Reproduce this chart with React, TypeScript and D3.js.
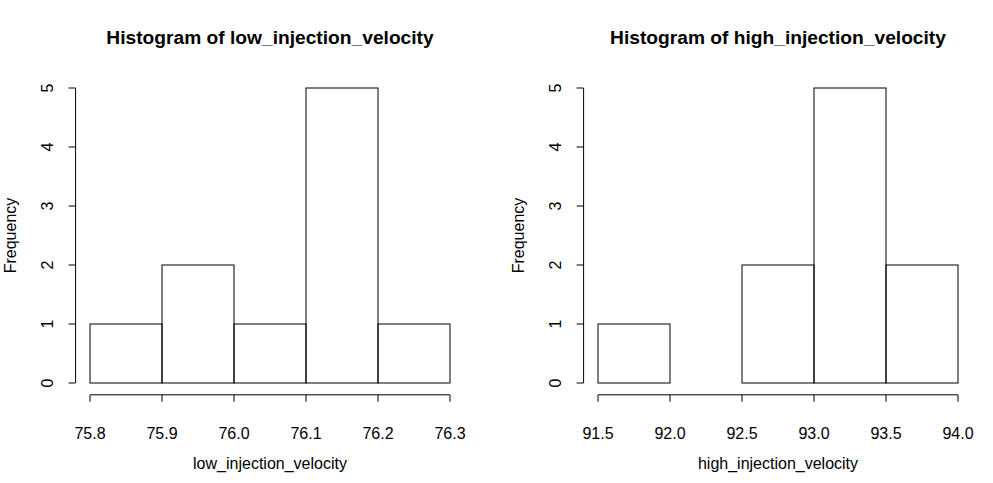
import React from 'react';
import * as d3 from 'd3';

const lowBreaks = [75.8, 75.9, 76.0, 76.1, 76.2, 76.3];
const lowCounts = [1, 2, 1, 5, 1];
const highBreaks = [91.5, 92.0, 92.5, 93.0, 93.5, 94.0];
const highCounts = [1, 0, 2, 5, 2];
const yTicks = [0, 1, 2, 3, 4, 5];

const W = 993;
const H = 483;
const FONT = '"Liberation Sans", Arial, Helvetica, sans-serif';

interface PanelProps {
  left: number;
  name: string;
  breaks: number[];
  counts: number[];
}

const Panel: React.FC<PanelProps> = ({ left, name, breaks, counts }) => {
  const plotL = left;
  const plotR = left + 388.8;
  const plotT = 76.2;
  const plotB = 394.8;

  const lo = breaks[0];
  const hi = breaks[breaks.length - 1];
  const pad = (hi - lo) * 0.04;
  const x = d3.scaleLinear().domain([lo - pad, hi + pad]).range([plotL, plotR]);
  const y = d3.scaleLinear().domain([-0.2, 5.2]).range([plotB, plotT]);
  const fmt = d3.format('.1f');
  const cx = (plotL + plotR) / 2;
  const cy = (plotT + plotB) / 2;

  return (
    <g fontFamily={FONT} fill="#000">
      <text x={cx} y={43.5} textAnchor="middle" fontSize={19.2} fontWeight="bold">
        Histogram of {name}
      </text>
      {counts.map((c, i) => (
        <rect
          key={i}
          x={x(breaks[i])}
          y={y(c)}
          width={x(breaks[i + 1]) - x(breaks[i])}
          height={y(0) - y(c)}
          fill="none"
          stroke="#000"
          strokeWidth={1}
        />
      ))}
      {/* x axis */}
      <line x1={x(lo)} x2={x(hi)} y1={plotB} y2={plotB} stroke="#000" />
      {breaks.map((b, i) => (
        <g key={i}>
          <line x1={x(b)} x2={x(b)} y1={plotB} y2={plotB + 7} stroke="#000" />
          <text x={x(b)} y={439} textAnchor="middle" fontSize={16}>
            {fmt(b)}
          </text>
        </g>
      ))}
      <text x={cx} y={469} textAnchor="middle" fontSize={16}>
        {name}
      </text>
      {/* y axis */}
      <line x1={plotL} x2={plotL} y1={y(0)} y2={y(5)} stroke="#000" />
      {yTicks.map((t) => (
        <g key={t}>
          <line x1={plotL - 7} x2={plotL} y1={y(t)} y2={y(t)} stroke="#000" />
          <text
            transform={`translate(${plotL - 23},${y(t)}) rotate(-90)`}
            textAnchor="middle"
            fontSize={16}
          >
            {t}
          </text>
        </g>
      ))}
      <text
        transform={`translate(${left - 60},${cy}) rotate(-90)`}
        textAnchor="middle"
        fontSize={16}
      >
        Frequency
      </text>
    </g>
  );
};

export default function App() {
  return (
    <svg
      width={W}
      height={H}
      style={{ position: 'absolute', left: 0, top: 0, background: '#fff' }}
    >
      <rect width={W} height={H} fill="#fff" />
      <Panel left={75.6} name="low_injection_velocity" breaks={lowBreaks} counts={lowCounts} />
      <Panel left={583.6} name="high_injection_velocity" breaks={highBreaks} counts={highCounts} />
    </svg>
  );
}
